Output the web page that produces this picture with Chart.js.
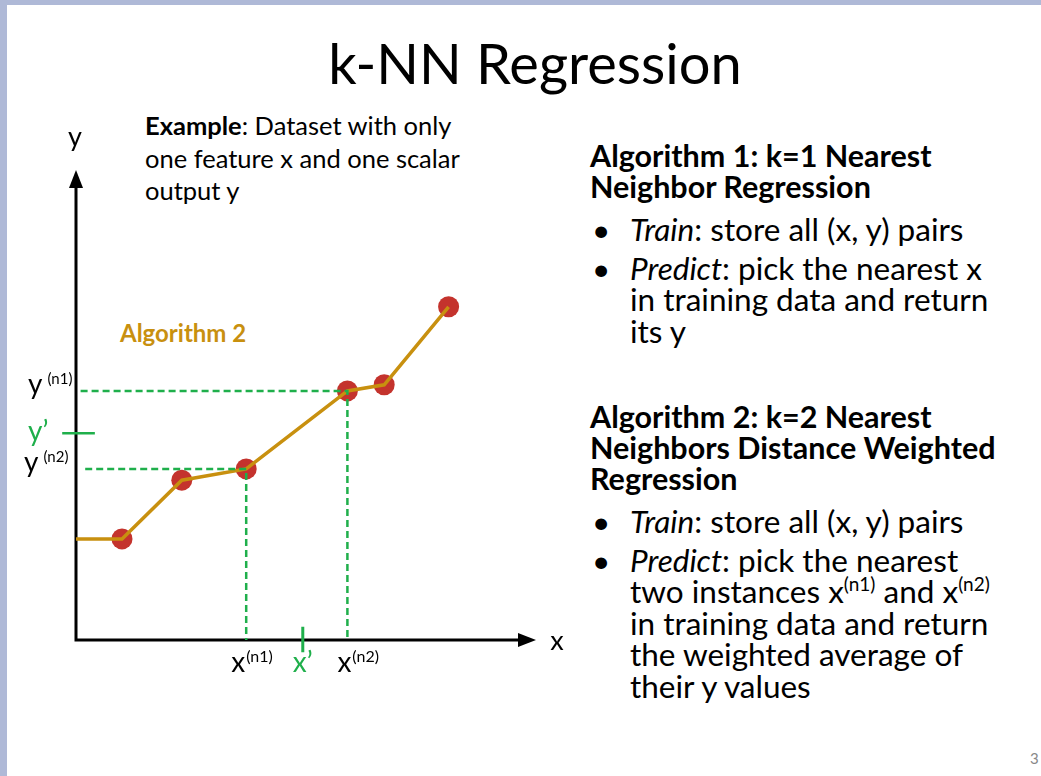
<!DOCTYPE html>
<html>
<head>
<meta charset="utf-8">
<script src="https://cdn.jsdelivr.net/npm/chart.js@4"></script>
<style>
  html, body { margin: 0; padding: 0; background: #fff; }
  body { width: 1041px; height: 776px; position: relative; overflow: hidden; font-family: Lato, "Open Sans", sans-serif; color: #000; }
  .band-top { position: absolute; left: 0; top: 0; width: 1041px; height: 5px; background: #AFB9D7; }
  .band-left { position: absolute; left: 0; top: 0; width: 7px; height: 776px; background: #AFB9D7; }
  #title { position: absolute; left: 0; width: 1070px; top: 30px; text-align: center; font-size: 56px; line-height: 66px; }
  #example { position: absolute; left: 145px; top: 109px; font-size: 25.5px; line-height: 32.5px; white-space: nowrap; }
  #algo2 { position: absolute; left: 120px; top: 318px; font-size: 24px; line-height: 30px; font-weight: bold; color: #C8900F; }
  #chart { position: absolute; left: 0; top: 100px; }
  .panel { position: absolute; left: 590px; width: 450px; white-space: nowrap; }
  .panel h3 { margin: 0; font-size: 30.5px; line-height: 31px; font-weight: bold; }
  .panel ul { list-style: none; margin: 0; padding: 0; }
  .panel li { position: relative; padding-left: 40px; font-size: 31.5px; line-height: 31.5px; margin-top: 7px; }
  .panel li:first-child { margin-top: 12px; }
  .panel li::before { content: "\2022"; position: absolute; left: 2px; top: 0; }
  .panel sup { font-size: 19px; line-height: 0; vertical-align: 12px; }
  #page { position: absolute; left: 1030px; top: 749px; font-size: 15px; color: #888; }
</style>
</head>
<body>
<div class="band-top"></div>
<div class="band-left"></div>
<div id="title">k-NN Regression</div>
<div id="example"><b>Example</b>: Dataset with only<br>one feature x and one scalar<br>output y</div>
<div id="algo2">Algorithm 2</div>
<canvas id="chart" width="580" height="620"></canvas>

<div class="panel" style="top:140px">
  <h3>Algorithm 1: k=1 Nearest<br>Neighbor Regression</h3>
  <ul>
    <li><i>Train</i>: store all (x, y) pairs</li>
    <li><i>Predict</i>: pick the nearest x<br>in training data and return<br>its y</li>
  </ul>
</div>
<div class="panel" style="top:401px">
  <h3>Algorithm 2: k=2 Nearest<br>Neighbors Distance Weighted<br>Regression</h3>
  <ul>
    <li><i>Train</i>: store all (x, y) pairs</li>
    <li><i>Predict</i>: pick the nearest<br>two instances x<sup>(n1)</sup> and x<sup>(n2)</sup><br>in training data and return<br>the weighted average of<br>their y values</li>
  </ul>
</div>
<div id="page">3</div>

<script>
// training data (x, y)
const trainX = [1.0, 2.3, 3.7, 5.9, 6.7, 8.1];
const trainY = [2.15, 3.4, 3.64, 5.3, 5.43, 7.09];
// algorithm 2 curve starts flat at the y axis
const curveStartX = 0;
const curveStartY = 2.15;
// the two neighbours used in the sketch (index into training data)
const nbrA = 2;   // labelled x(n1) on the x axis, y(n2) on the y axis
const nbrB = 3;   // labelled x(n2) on the x axis, y(n1) on the y axis
// query point
const queryX = 4.93;
const queryY = 4.4;
const xLabels = ['x', '(n1)', 'x', '(n2)', 'x\u2019'];
const yLabels = ['y', '(n1)', 'y', '(n2)', 'y\u2019'];

const green = '#1FAF4B';
const gold = '#C8900F';
const red = '#C4332D';

const curve = [{ x: curveStartX, y: curveStartY }];
for (let i = 0; i < trainX.length; i++) curve.push({ x: trainX[i], y: trainY[i] });
const points = trainX.map((x, i) => ({ x: x, y: trainY[i] }));

const dashB = [{ x: 0.1, y: trainY[nbrB] }, { x: trainX[nbrB], y: trainY[nbrB] }, { x: trainX[nbrB], y: 0 }];
const dashA = [{ x: 0.2, y: trainY[nbrA] }, { x: trainX[nbrA], y: trainY[nbrA] }, { x: trainX[nbrA], y: 0 }];
const yTick = [{ x: -0.3, y: queryY }, { x: 0.41, y: queryY }];
const xTick = [{ x: queryX, y: 0.28 }, { x: queryX, y: -0.26 }];

function drawSup(ctx, base, sup, x, y, color, gap, supSize) {
    ctx.fillStyle = color;
    ctx.textBaseline = 'alphabetic';
    ctx.textAlign = 'left';
    ctx.font = '28px Lato';
    ctx.fillText(base, x, y);
    const w = ctx.measureText(base).width;
    if (sup) {
        ctx.font = (supSize || 16) + 'px Lato';
        ctx.fillText(sup, x + w + (gap || 1), y - 10);
    }
}

const axesPlugin = {
    id: 'axes',
    beforeDatasetsDraw(chart) {
        const ctx = chart.ctx;
        const xs = chart.scales.x, ys = chart.scales.y;
        const x0 = xs.getPixelForValue(0), y0 = ys.getPixelForValue(0);
        const xEnd = xs.getPixelForValue(10), yEnd = ys.getPixelForValue(10);
        ctx.save();
        ctx.strokeStyle = '#000';
        ctx.fillStyle = '#000';
        ctx.lineWidth = 3;
        ctx.beginPath();
        ctx.moveTo(x0, y0 + 1.5);
        ctx.lineTo(x0, yEnd + 16);
        ctx.moveTo(x0 - 1.5, y0);
        ctx.lineTo(xEnd - 16, y0);
        ctx.stroke();
        ctx.beginPath();
        ctx.moveTo(x0, yEnd);
        ctx.lineTo(x0 - 7, yEnd + 18);
        ctx.lineTo(x0 + 7, yEnd + 18);
        ctx.closePath();
        ctx.fill();
        ctx.beginPath();
        ctx.moveTo(xEnd, y0);
        ctx.lineTo(xEnd - 18, y0 - 7);
        ctx.lineTo(xEnd - 18, y0 + 7);
        ctx.closePath();
        ctx.fill();
        ctx.font = '27px Lato';
        ctx.textAlign = 'center';
        ctx.textBaseline = 'middle';
        ctx.fillText('y', x0 - 1, yEnd - 33);
        ctx.fillText('x', xEnd + 21, y0 + 1);
        ctx.restore();
    },
    afterDatasetsDraw(chart) {
        const ctx = chart.ctx;
        const xs = chart.scales.x, ys = chart.scales.y;
        const x0 = xs.getPixelForValue(0), y0 = ys.getPixelForValue(0);
        ctx.save();
        // x axis labels
        const xa = xs.getPixelForValue(trainX[nbrA]);
        const xb = xs.getPixelForValue(trainX[nbrB]);
        const xq = xs.getPixelForValue(queryX);
        drawSup(ctx, xLabels[0], xLabels[1], xa - 15, y0 + 32, '#000');
        drawSup(ctx, xLabels[2], xLabels[3], xb - 10, y0 + 32, '#000');
        drawSup(ctx, xLabels[4], '', xq - 10, y0 + 32, green);
        // y axis labels
        const yb = ys.getPixelForValue(trainY[nbrB]);
        const ya = ys.getPixelForValue(trainY[nbrA]);
        const yq = ys.getPixelForValue(queryY);
        drawSup(ctx, yLabels[0], yLabels[1], x0 - 48, yb + 3, '#000', 5, 15);
        drawSup(ctx, yLabels[2], yLabels[3], x0 - 52, ya + 3, '#000', 5, 15);
        drawSup(ctx, yLabels[4], '', x0 - 48, yq + 8, green);
        ctx.restore();
    }
};

new Chart(document.getElementById('chart'), {
    type: 'scatter',
    data: {
        datasets: [
            { type: 'line', data: dashB, borderColor: green, borderWidth: 2.5, borderDash: [7, 4], pointRadius: 0, fill: false, order: 0 },
            { type: 'line', data: dashA, borderColor: green, borderWidth: 2.5, borderDash: [7, 4], pointRadius: 0, fill: false, order: 0 },
            { type: 'line', data: yTick, borderColor: green, borderWidth: 2.5, pointRadius: 0, fill: false, order: 0 },
            { type: 'line', data: xTick, borderColor: green, borderWidth: 3, pointRadius: 0, fill: false, order: 0 },
            { type: 'line', data: curve, borderColor: gold, borderWidth: 3.5, pointRadius: 0, fill: false, tension: 0, order: 1 },
            { data: points, backgroundColor: red, borderWidth: 0, pointRadius: 10.5, showLine: false, order: 2 }
        ]
    },
    options: {
        responsive: false,
        animation: false,
        devicePixelRatio: 1,
        events: [],
        clip: false,
        layout: { padding: { left: 76, right: 44, top: 70, bottom: 80 } },
        scales: {
            x: { type: 'linear', min: 0, max: 10, display: false },
            y: { type: 'linear', min: 0, max: 10, display: false }
        },
        plugins: { legend: { display: false }, tooltip: { enabled: false } }
    },
    plugins: [axesPlugin]
});
</script>
</body>
</html>
